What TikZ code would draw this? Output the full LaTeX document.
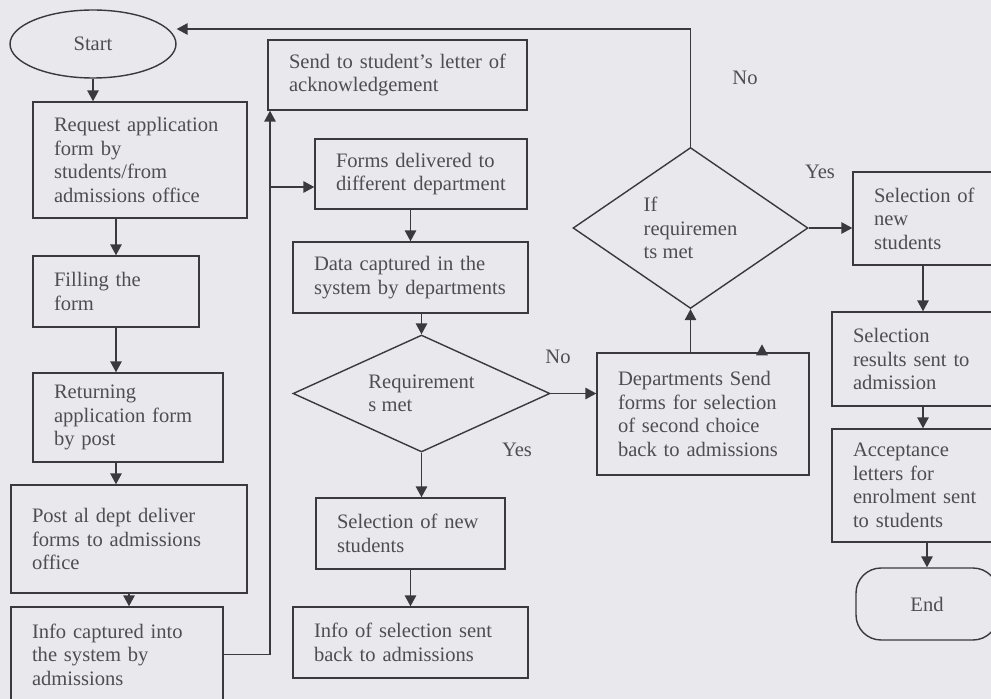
\documentclass[tikz,border=0pt]{standalone}
\usepackage{fontspec}
\setmainfont{Liberation Serif}
\usepackage{xcolor}
\usetikzlibrary{shapes.geometric,arrows.meta}

\definecolor{paper}{RGB}{233,233,237}
\definecolor{ink}{RGB}{58,58,62}
\definecolor{inktext}{RGB}{78,78,82}

\begin{document}
\begin{tikzpicture}[
  x=0.02cm, y=-0.02cm,
  every node/.style={font=\fontsize{11.7}{13.4}\selectfont, text=inktext},
  proc/.style={draw=ink, line width=0.8pt, rectangle, align=left, inner xsep=0.42cm, inner ysep=0pt},
  decision/.style={draw=ink, line width=0.8pt, diamond, align=left, inner sep=0pt},
  terminal/.style={draw=ink, line width=0.8pt, align=center, inner sep=0pt},
  lbl/.style={inner sep=0pt},
  arr/.style={draw=ink, line width=0.8pt, -{Triangle[length=2.2mm,width=2.3mm]}}
]
\path[use as bounding box, fill=paper] (0,0) rectangle (991,699);
\clip (0,0) rectangle (991,699);

% left column
\node[terminal, ellipse, minimum width=3.32cm, minimum height=1.36cm] (start) at (93,44) {Start};
\node[proc, text width=3.44cm, minimum height=2.32cm] (req) at (140,160)
  {Request application\\ form by\\ students/from\\ admissions office};
\node[proc, text width=2.48cm, minimum height=1.42cm] (fill) at (116,291.5) {Filling the\\ form};
\node[proc, text width=2.96cm, minimum height=1.78cm] (ret) at (128,417.5)
  {Returning\\ application form\\ by post};
\node[proc, text width=3.88cm, minimum height=2.16cm] (post) at (129,539)
  {Post al dept deliver\\ forms to admissions\\ office};
\node[proc, text width=3.40cm, minimum height=1.90cm] (info) at (117,654.5)
  {Info captured into\\ the system by\\ admissions};

% middle column
\node[proc, text width=4.34cm, minimum height=1.40cm] (send) at (397.5,75)
  {Send to student's letter~of\\ acknowledgement};
\node[proc, text width=3.40cm, minimum height=1.40cm] (forms) at (421,174)
  {Forms delivered to\\ different~department};
\node[proc, text width=3.86cm, minimum height=1.42cm] (data) at (410.5,277.5)
  {Data captured in the\\ system by~departments};
\node[decision, aspect=2.2, minimum width=5.14cm, minimum height=2.34cm] (req1) at (421.5,393.5)
  {Requirement\\ s met};
\node[proc, text width=2.94cm, minimum height=1.42cm] (sel1) at (410.5,533.5)
  {Selection of new\\ students};
\node[proc, text width=3.86cm, minimum height=1.42cm] (infosel) at (410.5,642.5)
  {Info of selection sent\\ back to admissions};

% second choice
\node[proc, text width=3.40cm, minimum height=2.44cm] (dept) at (703,414)
  {Departments Send\\ forms for selection\\ of second choice\\ back to admissions};
\node[decision, aspect=1.46, minimum width=4.70cm, minimum height=3.22cm] (req2) at (690.5,228)
  {If\\ requiremen\\ ts met};

% right column
\node[proc, text width=2.36cm, minimum height=1.86cm] (sel2) at (933,218.5)
  {Selection of\\ new\\ students};
\node[proc, text width=2.80cm, minimum height=1.88cm] (res) at (923,359)
  {Selection\\ results sent to\\ admission};
\node[proc, text width=2.80cm, minimum height=2.26cm] (acc) at (923,485.5)
  {Acceptance\\ letters for\\ enrolment sent\\ to students};
\node[terminal, rectangle, rounded corners=0.5cm, minimum width=2.84cm, minimum height=1.44cm] (end) at (927,604) {End};

% labels
\node[lbl] (no1) at (558,357) {No};
\node[lbl] (yes1) at (517,450) {Yes};
\node[lbl] (no2) at (745,78) {No};
\node[lbl] (yes2) at (820,172) {Yes};

\coordinate (jn) at (270,187);

% connectors
\draw[arr] (start.south) -- (start.south |- req.north);
\draw[arr] (req.south -| fill.north) -- (fill.north);
\draw[arr] (fill.south) -- (fill.south |- ret.north);
\draw[arr] (fill.south |- ret.south) -- (fill.south |- post.north);
\draw[arr] (post.south) -- (post.south |- info.north);
\draw[arr] (info.east) -| (jn) -- (jn |- send.south);
\draw[arr] (jn) -- (jn -| forms.west);
\draw[arr] (forms.south -| data.north) -- (data.north);
\draw[arr] (data.south -| req1.north) -- (req1.north);
\draw[arr] (req1.south) -- (req1.south |- sel1.north);
\draw[arr] (sel1.south) -- (sel1.south |- infosel.north);
\draw[arr] (req1.east) -- (req1.east -| dept.west);
\draw[arr] (req2.south |- dept.north) -- (req2.south);
\draw[arr] ([xshift=1.18cm]dept.north) -- ++(0,-8);
\draw[arr] (req2.north) |- ([yshift=0.3cm]start.east);
\draw[arr] (req2.east) -- (req2.east -| sel2.west);
\draw[arr] (sel2.south -| res.north) -- (res.north);
\draw[arr] (res.south) -- (res.south |- acc.north);
\draw[arr] (acc.south -| end.north) -- (end.north);
\end{tikzpicture}
\end{document}
